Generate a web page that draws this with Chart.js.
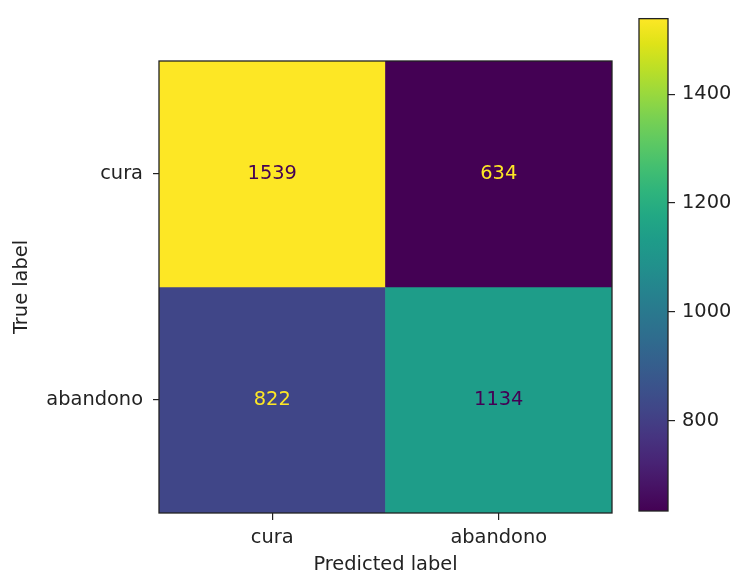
<!DOCTYPE html>
<html>
<head>
<meta charset="utf-8">
<script src="https://cdn.jsdelivr.net/npm/chart.js@4/dist/chart.umd.min.js"></script>
<style>
  html, body { margin: 0; padding: 0; background: #fff; }
  #wrap { position: relative; width: 733px; height: 575px; }
  #matrix { position: absolute; left: 0; top: 0; }
  #cbar { position: absolute; left: 620px; top: 0; }
</style>
</head>
<body>
<div id="wrap">
  <canvas id="matrix" width="733" height="575"></canvas>
  <canvas id="cbar" width="113" height="575"></canvas>
</div>
<script>
// Class names (rows = true label, columns = predicted label)
const categories = ['cura', 'abandono'];
// Confusion-matrix counts, one array per true-label row
const rowCura = [1539, 634];
const rowAbandono = [822, 1134];
// Colorbar tick values
const colorbarTicks = [800, 1000, 1200, 1400];

const matrix = [rowCura, rowAbandono];
const allValues = matrix.flat();
const vmin = Math.min(...allValues);
const vmax = Math.max(...allValues);
const vmid = (vmin + vmax) / 2;

const FONT = 'DejaVu Sans';
const FS = 19.4;
const INK = '#222';

// Viridis colormap anchor colours, evenly spaced from 0 to 1
const VIRIDIS = ['#440154', '#471365', '#482475', '#463480', '#414487', '#3b528b', '#355f8d',
                 '#2f6c8e', '#2a788e', '#25848e', '#21918c', '#1e9c89', '#22a884', '#2fb47c',
                 '#44bf70', '#5ec962', '#7ad151', '#9bd93c', '#bddf26', '#dfe318', '#fde725'];

function hexToRgb(h) {
  return [parseInt(h.slice(1, 3), 16), parseInt(h.slice(3, 5), 16), parseInt(h.slice(5, 7), 16)];
}
function viridis(t) {
  t = Math.min(1, Math.max(0, t));
  const p = t * (VIRIDIS.length - 1);
  const i = Math.min(Math.floor(p), VIRIDIS.length - 2);
  const f = p - i;
  const a = hexToRgb(VIRIDIS[i]), b = hexToRgb(VIRIDIS[i + 1]);
  const c = a.map((v, k) => Math.round(v + (b[k] - v) * f));
  return `rgb(${c[0]},${c[1]},${c[2]})`;
}
const norm = v => (v - vmin) / (vmax - vmin);

// Draws a rectangular frame around the plotting area
const frame = {
  id: 'frame',
  afterDraw(chart) {
    const { ctx, chartArea: a } = chart;
    ctx.save();
    ctx.strokeStyle = INK;
    ctx.lineWidth = 1.3;
    ctx.strokeRect(a.left, a.top, a.right - a.left, a.bottom - a.top);
    ctx.restore();
  }
};

// Writes each cell's count at its centre
const cellLabels = {
  id: 'cellLabels',
  afterDatasetsDraw(chart) {
    const ctx = chart.ctx;
    ctx.save();
    ctx.font = `${FS}px "${FONT}"`;
    ctx.textAlign = 'center';
    ctx.textBaseline = 'middle';
    chart.data.datasets.forEach((ds, di) => {
      chart.getDatasetMeta(di).data.forEach((el, i) => {
        const v = matrix[di][i];
        const p = el.getCenterPoint();
        ctx.fillStyle = v > vmid ? viridis(0) : viridis(1);
        ctx.fillText(String(v), p.x, p.y);
      });
    });
    ctx.restore();
  }
};

const tickFont = { family: FONT, size: FS };

new Chart(document.getElementById('matrix'), {
  type: 'bar',
  data: {
    labels: categories,
    datasets: matrix.map((row, r) => ({
      label: categories[r],
      data: row.map(() => [r, r + 1]),
      backgroundColor: row.map(v => viridis(norm(v))),
      borderWidth: 0,
      barPercentage: 1,
      categoryPercentage: 1,
      grouped: false
    }))
  },
  options: {
    responsive: false,
    animation: false,
    layout: { padding: { left: 0, top: 61, right: 121, bottom: 0 } },
    plugins: { legend: { display: false }, tooltip: { enabled: false } },
    scales: {
      x: {
        type: 'category',
        offset: true,
        grid: { offset: false, drawOnChartArea: false, drawTicks: true, tickLength: 7, color: INK, lineWidth: 1.2 },
        border: { display: false },
        ticks: { color: INK, font: tickFont, padding: 6, maxRotation: 0, autoSkip: false },
        title: { display: true, text: 'Predicted label', color: INK, font: { family: FONT, size: FS, lineHeight: 1 }, padding: { top: 0, bottom: 0 } },
        afterFit(s) { s.height = 62; }
      },
      y: {
        type: 'linear',
        min: 0,
        max: 2,
        reverse: true,
        afterBuildTicks(s) { s.ticks = categories.map((_, i) => ({ value: i + 0.5 })); },
        grid: { drawOnChartArea: false, drawTicks: true, tickLength: 6, color: INK, lineWidth: 1.2 },
        border: { display: false },
        ticks: { color: INK, font: tickFont, padding: 10, autoSkip: false, callback: v => categories[Math.floor(v)] },
        title: { display: true, text: 'True label', color: INK, font: { family: FONT, size: FS, lineHeight: 1 }, padding: { top: 12, bottom: 0 } },
        afterFit(s) { s.width = 159; }
      }
    }
  },
  plugins: [cellLabels, frame]
});

// Colorbar: a single floating bar spanning the data range, filled with the colormap
new Chart(document.getElementById('cbar'), {
  type: 'bar',
  data: {
    labels: [''],
    datasets: [{
      data: [[vmin, vmax]],
      backgroundColor(ctx) {
        const { chart } = ctx;
        if (!chart.chartArea) return VIRIDIS[0];
        const y = chart.scales.y;
        const g = chart.ctx.createLinearGradient(0, y.getPixelForValue(vmin), 0, y.getPixelForValue(vmax));
        VIRIDIS.forEach((c, k) => g.addColorStop(k / (VIRIDIS.length - 1), c));
        return g;
      },
      borderWidth: 0,
      barPercentage: 1,
      categoryPercentage: 1
    }]
  },
  options: {
    responsive: false,
    animation: false,
    layout: { padding: { left: 19, top: 9, right: 0, bottom: 64 } },
    plugins: { legend: { display: false }, tooltip: { enabled: false } },
    scales: {
      x: { display: false },
      y: {
        position: 'right',
        min: vmin,
        max: vmax,
        afterBuildTicks(s) { s.ticks = colorbarTicks.map(v => ({ value: v })); },
        grid: { drawOnChartArea: false, drawTicks: true, tickLength: 7, color: INK, lineWidth: 1.2 },
        border: { display: false },
        ticks: { color: INK, font: tickFont, padding: 7, callback: v => String(v) },
        afterFit(s) { s.width = 65; }
      }
    }
  },
  plugins: [frame]
});
</script>
</body>
</html>
